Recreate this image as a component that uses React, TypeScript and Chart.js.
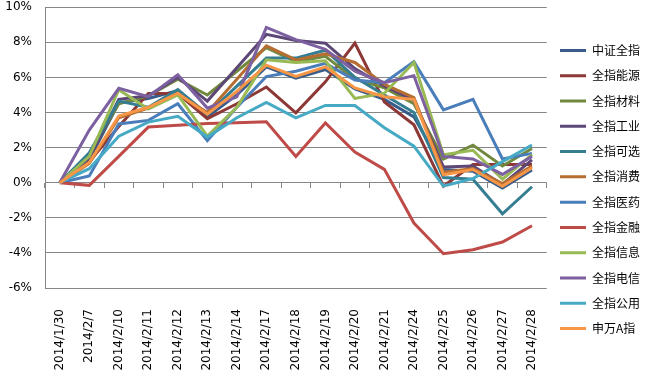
import React, { useEffect, useRef } from "react";
import { Chart, registerables } from "chart.js";

Chart.register(...registerables);

const categories = [
  "2014/1/30", "2014/2/7", "2014/2/10", "2014/2/11", "2014/2/12", "2014/2/13",
  "2014/2/14", "2014/2/17", "2014/2/18", "2014/2/19", "2014/2/20", "2014/2/21",
  "2014/2/24", "2014/2/25", "2014/2/26", "2014/2/27", "2014/2/28",
];

const seriesNames = [
  "中证全指", "全指能源", "全指材料", "全指工业", "全指可选", "全指消费",
  "全指医药", "全指金融", "全指信息", "全指电信", "全指公用", "申万A指",
];

const seriesColors = [
  "#385D8A", "#8C3836", "#71893F", "#5C4776", "#357D91", "#B66D31",
  "#4A7EBB", "#BE4B48", "#98B954", "#7D60A0", "#46AAC5", "#F79646",
];

const zzqz = [0, 1.3, 4.55, 4.8, 5.25, 3.75, 5.0, 6.6, 5.95, 6.45, 5.35, 4.75, 3.75, 0.75, 0.65, -0.3, 0.72];
const nengyuan = [0, 1.2, 3.2, 5.08, 5.08, 3.65, 4.5, 5.45, 3.98, 5.75, 7.95, 4.6, 3.3, -0.2, 1.04, 1.04, 1.04];
const cailiao = [0, 1.6, 4.5, 4.95, 5.9, 5.0, 6.35, 7.7, 6.9, 7.2, 5.9, 5.4, 4.5, 1.35, 2.14, 0.95, 1.95];
const gongye = [0, 1.4, 4.75, 4.95, 6.0, 4.65, 6.55, 8.45, 8.1, 7.95, 6.5, 5.5, 4.7, 0.9, 0.95, -0.1, 1.3];
const kexuan = [0, 1.7, 4.65, 4.3, 5.3, 3.9, 5.5, 7.1, 7.1, 7.55, 6.0, 5.0, 4.0, 0.3, 0.2, -1.77, -0.23];
const xiaofei = [0, 1.1, 3.7, 4.25, 5.05, 4.0, 5.9, 7.8, 7.0, 7.35, 6.85, 5.6, 4.85, 0.6, 0.8, -0.05, 0.95];
const yiyao = [0, 0.38, 3.35, 3.55, 4.5, 2.4, 4.3, 6.05, 6.35, 6.8, 5.85, 5.7, 6.9, 4.15, 4.75, 1.35, 1.67];
const jinrong = [0, -0.15, 1.5, 3.17, 3.27, 3.37, 3.42, 3.47, 1.5, 3.4, 1.75, 0.76, -2.3, -4.05, -3.82, -3.38, -2.45];
const xinxi = [0, 1.5, 5.3, 4.2, 5.0, 2.65, 4.3, 7.0, 6.85, 6.95, 4.8, 5.1, 6.85, 1.6, 1.85, 0.2, 1.6];
const dianxin = [0, 3.0, 5.38, 4.9, 6.15, 4.25, 4.9, 8.85, 8.15, 7.6, 6.35, 5.7, 6.1, 1.5, 1.35, 0.47, 1.5];
const gongyong = [0, 0.8, 2.65, 3.45, 3.78, 2.6, 3.7, 4.57, 3.7, 4.4, 4.4, 3.13, 2.08, -0.19, 0.23, 1.2, 2.15];
const swAzhi = [0, 1.15, 3.8, 4.3, 5.1, 3.9, 5.2, 6.7, 6.05, 6.6, 5.4, 4.9, 4.75, 0.45, 0.75, -0.2, 0.85];

const seriesValues = [zzqz, nengyuan, cailiao, gongye, kexuan, xiaofei, yiyao, jinrong, xinxi, dianxin, gongyong, swAzhi];

const yTicks = [-6, -4, -2, 0, 2, 4, 6, 8, 10];

const GRID = "#868686";
const TICK_FONT = { family: "'DejaVu Sans', sans-serif", size: 12 };

export default function App() {
  const canvasRef = useRef<HTMLCanvasElement | null>(null);

  useEffect(() => {
    const canvas = canvasRef.current;
    if (!canvas) return;
    const n = seriesNames.length;
    const chart = new Chart(canvas, {
      type: "line",
      data: {
        labels: categories,
        datasets: seriesNames.map((name, i) => ({
          label: name,
          data: seriesValues[i],
          borderColor: seriesColors[i],
          backgroundColor: seriesColors[i],
          borderWidth: 3,
          pointRadius: 0,
          pointHoverRadius: 0,
          tension: 0,
          fill: false,
          order: n - i,
          xAxisID: "x",
          yAxisID: "y",
        })),
      },
      options: {
        responsive: true,
        maintainAspectRatio: false,
        animation: false,
        layout: { padding: { top: 7, left: 0, right: 0, bottom: 0 } },
        plugins: {
          tooltip: { enabled: false },
          legend: {
            position: "right",
            align: "center",
            labels: {
              usePointStyle: true,
              pointStyle: "line",
              pointStyleWidth: 26,
              boxHeight: 12,
              padding: 13.27,
              color: "#000000",
              font: { family: "'Noto Sans CJK SC', sans-serif", size: 12 },
              sort: (a: any, b: any) => a.datasetIndex - b.datasetIndex,
            },
          },
        },
        scales: {
          x: {
            type: "category",
            position: "bottom",
            offset: true,
            grid: { display: false },
            border: { display: false },
            ticks: {
              autoSkip: false,
              minRotation: 90,
              maxRotation: 90,
              padding: 13,
              color: "#000000",
              font: TICK_FONT,
            },
            afterFit: (scale: any) => {
              scale.height = 84;
            },
          },
          x2: {
            type: "category",
            position: { y: 0 },
            offset: true,
            grid: {
              display: true,
              drawOnChartArea: false,
              drawTicks: true,
              tickLength: 5,
              color: GRID,
              offset: true,
            },
            border: { display: false },
            ticks: { display: false },
            afterFit: (scale: any) => {
              scale.height = 0;
            },
          },
          y: {
            type: "linear",
            min: -6,
            max: 10,
            afterBuildTicks: (scale: any) => {
              scale.ticks = yTicks.map((v) => ({ value: v }));
            },
            grid: {
              color: GRID,
              lineWidth: 1,
              drawTicks: true,
              tickLength: 13,
              tickColor: "rgba(0,0,0,0)",
            },
            border: { display: true, color: GRID, width: 1 },
            ticks: {
              padding: 0,
              color: "#000000",
              font: TICK_FONT,
              callback: (v: any) => `${v}%`,
            },
            afterFit: (scale: any) => {
              scale.width = 45;
            },
          },
        },
      },
    });
    return () => chart.destroy();
  }, []);

  return (
    <div style={{ position: "absolute", left: 0, top: 0, width: 650, height: 372, background: "#ffffff" }}>
      <canvas ref={canvasRef} />
    </div>
  );
}
